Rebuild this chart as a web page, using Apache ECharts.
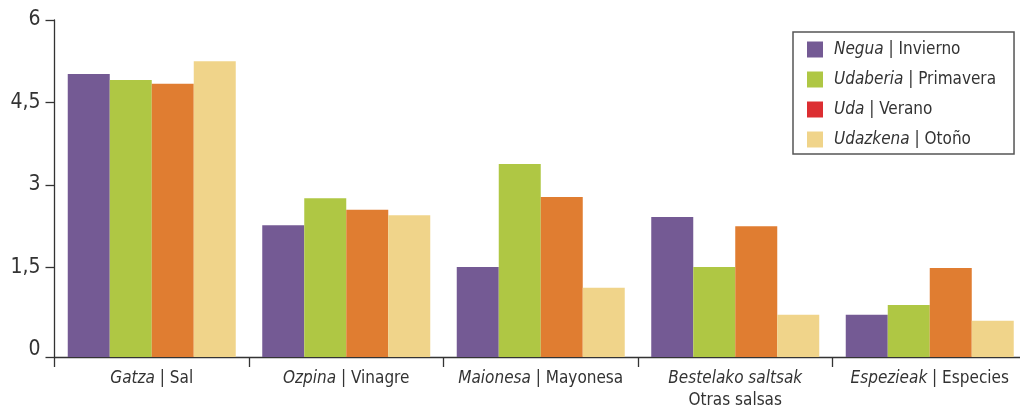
<!DOCTYPE html>
<html>
<head>
<meta charset="utf-8">
<script src="https://cdn.jsdelivr.net/npm/echarts@6/dist/echarts.min.js"></script>
<style>
html,body{margin:0;padding:0;background:#fff;}
#c{width:1020px;height:407px;}
</style>
</head>
<body>
<div id="c"></div>
<script>
// Categories (Basque / Spanish)
const catBasque = ['Gatza', 'Ozpina', 'Maionesa', 'Bestelako saltsak', 'Espezieak'];
const catSpanish = ['Sal', 'Vinagre', 'Mayonesa', 'Otras salsas', 'Especies'];

// Series (seasons)
const seasonBasque = ['Negua', 'Udaberia', 'Uda', 'Udazkena'];
const seasonSpanish = ['Invierno', 'Primavera', 'Verano', 'Otoño'];

const negua    = [5.02, 2.27, 1.51, 2.42, 0.64];
const udaberia = [4.91, 2.76, 3.38, 1.51, 0.82];
const uda      = [4.84, 2.55, 2.78, 2.25, 1.49];
const udazkena = [5.25, 2.45, 1.13, 0.64, 0.53];

// Tick labels on the value axis
const yLabels = [0, 1.5, 3, 4.5, 6];
// The axis baseline sits slightly below zero in the original drawing
const yBase = -0.127;

const barColors = ['#745a94', '#afc744', '#e07d31', '#f0d48a'];
const legendColors = ['#745a94', '#afc744', '#dc2e32', '#f0d48a'];

const FONT = "'Liberation Sans Narrow', 'DejaVu Sans Condensed', sans-serif";
const TXT = '#333333';

const values = [negua, udaberia, uda, udazkena];
const names = seasonBasque.map((b, i) => b + ' | ' + seasonSpanish[i]);
const yTicks = [yBase].concat(yLabels.filter(v => v !== 0));

const chart = echarts.init(document.getElementById('c'), null, {renderer: 'canvas'});
chart.setOption({
  animation: false,
  backgroundColor: '#ffffff',
  grid: {left: 54.5, width: 972.5, top: 20, height: 337, containLabel: false, outerBoundsMode: 'none'},
  legend: {
    orient: 'vertical',
    left: 793, top: 32,
    padding: [9, 18, 6, 14],
    itemWidth: 16, itemHeight: 16, itemGap: 13,
    borderColor: '#555555', borderWidth: 1.5, borderRadius: 0,
    backgroundColor: '#ffffff',
    icon: 'rect',
    data: names.map((n, i) => ({name: n, itemStyle: {color: legendColors[i]}})),
    formatter: function (n) {
      const p = n.split(' | ');
      return '{i|' + p[0] + '} | ' + p[1];
    },
    textStyle: {
      fontFamily: FONT, fontSize: 17, color: TXT, padding: [0, 0, 0, 6], lineHeight: 16,
      rich: {i: {fontFamily: FONT, fontSize: 17, color: TXT, fontStyle: 'italic', lineHeight: 16}}
    }
  },
  xAxis: {
    type: 'category',
    data: catBasque,
    axisLine: {show: true, onZero: false, lineStyle: {color: '#333333', width: 1.3}},
    axisTick: {show: true, length: 10, lineStyle: {color: '#333333', width: 1.3}},
    axisLabel: {
      margin: 11,
      interval: 0,
      fontFamily: FONT, fontSize: 17, color: TXT, lineHeight: 22,
      formatter: function (v, idx) {
        if (catBasque[idx].indexOf(' ') >= 0) return '{i|' + v + '}\n' + catSpanish[idx];
        return '{i|' + v + '} | ' + catSpanish[idx];
      },
      rich: {i: {fontFamily: FONT, fontSize: 17, color: TXT, fontStyle: 'italic', lineHeight: 22}}
    },
    splitLine: {show: false}
  },
  yAxis: {
    type: 'value',
    min: yBase, max: 6,
    startValue: yBase,
    axisLine: {show: true, lineStyle: {color: '#333333', width: 1.3}},
    axisTick: {show: true, length: 9, customValues: yTicks, lineStyle: {color: '#333333', width: 1.3}},
    axisLabel: {
      customValues: yLabels,
      margin: 14,
      padding: [5, 0, 0, 0],
      fontFamily: FONT, fontSize: 21, color: TXT,
      formatter: v => String(v).replace('.', ',')
    },
    splitLine: {show: false}
  },
  series: values.map((arr, i) => ({
    name: names[i],
    type: 'bar',
    data: arr,
    barWidth: 42,
    barGap: '0%',
    itemStyle: {color: barColors[i]}
  }))
});
</script>
</body>
</html>
